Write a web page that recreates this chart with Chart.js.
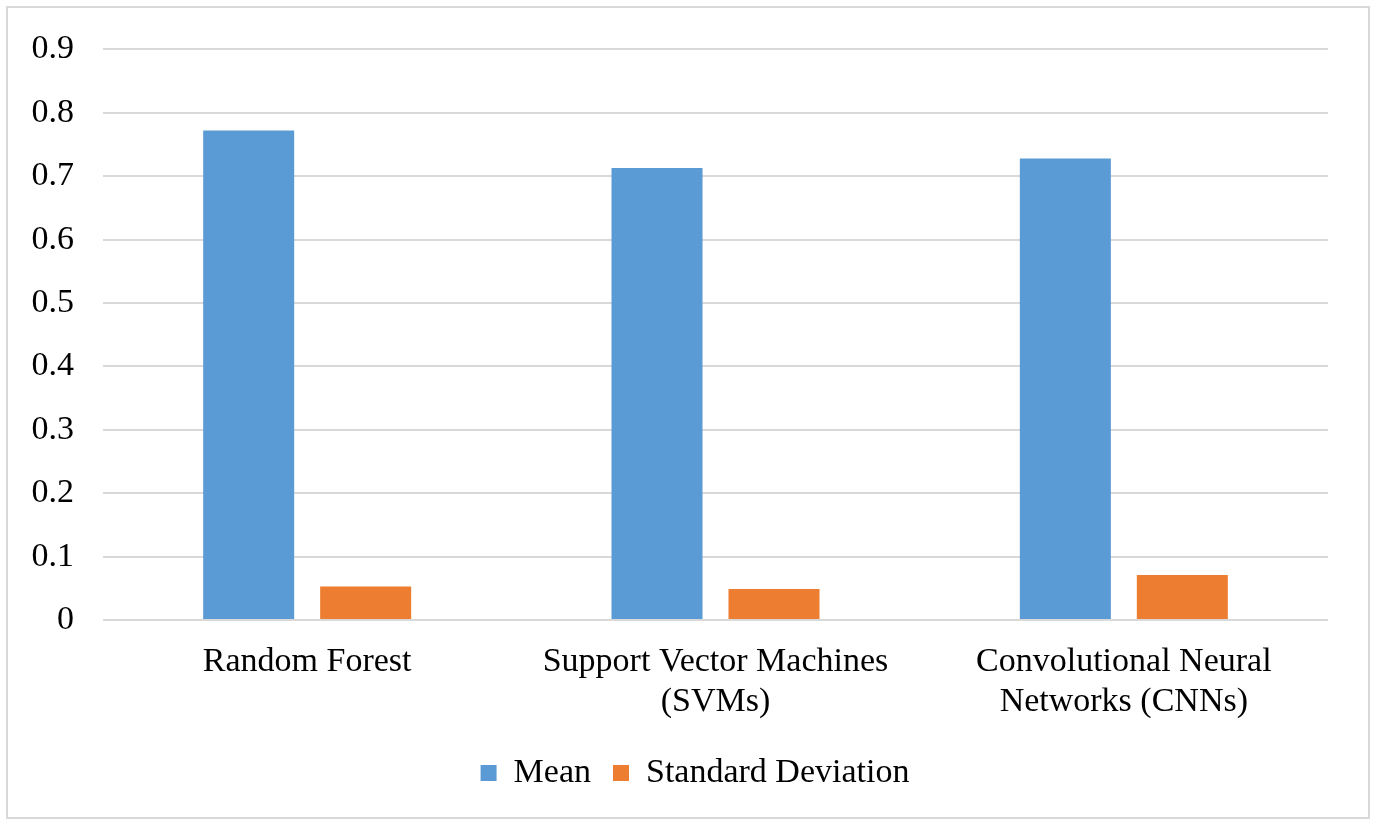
<!DOCTYPE html>
<html>
<head>
<meta charset="utf-8">
<script src="https://cdn.jsdelivr.net/npm/chart.js@4/dist/chart.umd.min.js"></script>
<style>
  html, body { margin: 0; padding: 0; background: #fff; }
  #wrap { position: relative; width: 1374px; height: 823px; }
  #chart { position: absolute; left: 0; top: 0; }
  #frame {
    position: absolute; left: 6px; top: 6px; width: 1364px; height: 813px;
    box-sizing: border-box; border: 2px solid #d9d9d9; pointer-events: none;
  }
</style>
</head>
<body>
<div id="wrap">
  <canvas id="chart" width="1374" height="823"></canvas>
  <div id="frame"></div>
</div>
<script>
// Model names (multi-line category labels)
const categories = [
  ['Random Forest'],
  ['Support Vector Machines', '(SVMs)'],
  ['Convolutional Neural', 'Networks (CNNs)']
];
// Scores per model
const meanValues = [0.772, 0.713, 0.728];
const stdValues = [0.053, 0.049, 0.071];
const seriesNames = ['Mean', 'Standard Deviation'];
// Value axis ticks
const yTicks = ['0', '0.1', '0.2', '0.3', '0.4', '0.5', '0.6', '0.7', '0.8', '0.9'];

const serif = "'Liberation Serif', 'Times New Roman', serif";

// Centre the legend on the whole frame rather than on the padded area
const legendShift = {
  id: 'legendShift',
  afterLayout(chart) {
    const lg = chart.legend;
    if (lg) { lg.left += 31; lg.right += 31; }
  }
};

new Chart(document.getElementById('chart'), {
  type: 'bar',
  data: {
    labels: categories,
    datasets: [
      { label: seriesNames[0], data: meanValues, backgroundColor: '#5b9bd5' },
      { label: seriesNames[1], data: stdValues, backgroundColor: '#ed7d31' }
    ]
  },
  plugins: [legendShift],
  options: {
    responsive: false,
    animation: false,
    devicePixelRatio: 1,
    layout: { padding: { left: 0, right: 46, top: 48, bottom: 23 } },
    datasets: {
      bar: { barPercentage: 0.778, categoryPercentage: 0.573 }
    },
    plugins: {
      tooltip: { enabled: false },
      legend: {
        position: 'bottom',
        labels: {
          font: { family: serif, size: 34 },
          color: '#000',
          boxWidth: 16,
          boxHeight: 16,
          padding: 22
        }
      }
    },
    scales: {
      x: {
        grid: { display: false, drawTicks: false },
        border: { display: false },
        ticks: {
          font: { family: serif, size: 34, lineHeight: 1.15 },
          color: '#000',
          padding: 23,
          maxRotation: 0,
          autoSkip: false
        },
        afterFit(scale) { scale.height = 114; }
      },
      y: {
        min: 0,
        max: 0.9,
        grid: { color: '#d9d9d9', lineWidth: 2, drawTicks: false },
        border: { display: false },
        ticks: {
          stepSize: 0.1,
          font: { family: serif, size: 34 },
          color: '#000',
          padding: 29,
          callback: (v, i) => yTicks[i]
        },
        afterFit(scale) { scale.width = 103; }
      }
    }
  }
});
</script>
</body>
</html>
